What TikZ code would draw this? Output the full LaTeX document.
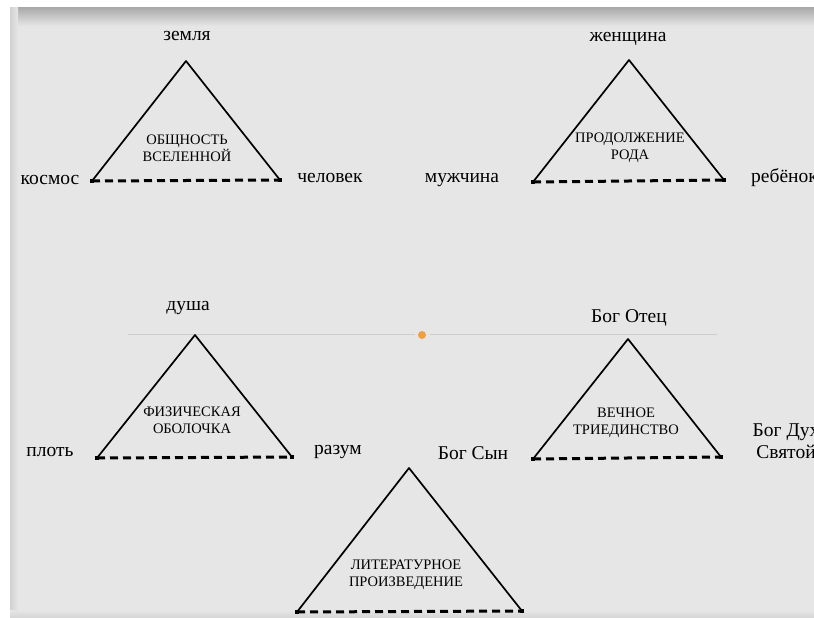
\documentclass[tikz,border=0pt]{standalone}
\usepackage{fontspec}
\setmainfont{Liberation Serif}
\definecolor{paper}{HTML}{E6E6E6}
\definecolor{paperedge}{HTML}{ABABAB}
\definecolor{rule}{HTML}{CDCDCD}
\definecolor{dot}{HTML}{F0A040}
\tikzset{
  lbl/.style={font=\fontsize{19.5}{22}\selectfont, inner sep=0pt, anchor=center},
  inner/.style={font=\fontsize{14.5}{17}\selectfont, inner sep=0pt, align=center, anchor=center},
  side/.style={line width=1.7pt, black, line join=round},
  base/.style={line width=3pt, black, dash pattern=on 8pt off 5pt},
  endpt/.style={rectangle, fill=black, inner sep=0pt, minimum size=4.5pt},
}
\begin{document}
\begin{tikzpicture}[x=1pt,y=-1pt]
\useasboundingbox (0,0) rectangle (814,618);
\clip (0,0) rectangle (814,618);
\fill[white] (0,0) rectangle (814,618);
\fill[paper] (10,8) rectangle (814,618);
\shade[top color=paperedge, bottom color=paper] (10,8) rectangle (814,26);
\shade[left color=paperedge!35!paper, right color=paper] (10,8) rectangle (18,618);
\shade[top color=paper, bottom color=paperedge!30!paper] (10,610) rectangle (814,618);
% horizontal rule with dot
\coordinate (r1) at (128,334);
\coordinate (r2) at (415,334);
\coordinate (r3) at (430,334);
\coordinate (r4) at (717,334);
\draw[rule, line width=1pt] (r1) -- (r2);
\draw[rule, line width=1pt] (r3) -- (r4);
\node[circle, fill=dot, inner sep=0pt, minimum size=8pt] (od) at (422,335) {};

% triangle 1
\coordinate (a1) at (186,61);
\coordinate (b1) at (92,181);
\coordinate (c1) at (280,180);
\draw[side] (b1) -- (a1) -- (c1);
\draw[base] (b1) -- (c1);
\node[endpt] at (b1) {}; \node[endpt] at (c1) {};
\node[lbl] (t1) at (187,36) {земля};
\node[lbl] (l1) at (50,180) {космос};
\node[lbl] (r1l) at (330,178) {человек};
\node[inner] (i1) at (187,148) {ОБЩНОСТЬ\\ВСЕЛЕННОЙ};

% triangle 2
\coordinate (a2) at (629,60);
\coordinate (b2) at (533,182);
\coordinate (c2) at (724,180);
\draw[side] (b2) -- (a2) -- (c2);
\draw[base] (b2) -- (c2);
\node[endpt] at (b2) {}; \node[endpt] at (c2) {};
\node[lbl] (t2) at (628,39) {женщина};
\node[lbl] (l2) at (462,180) {мужчина};
\node[lbl, anchor=west] (r2l) at (751,178) {ребёнок};
\node[inner] (i2) at (630,148) {ПРОДОЛЖЕНИЕ\\РОДА};

% triangle 3
\coordinate (a3) at (195,335);
\coordinate (b3) at (97,458);
\coordinate (c3) at (292,457);
\draw[side] (b3) -- (a3) -- (c3);
\draw[base] (b3) -- (c3);
\node[endpt] at (b3) {}; \node[endpt] at (c3) {};
\node[lbl] (t3) at (188,308) {душа};
\node[lbl] (l3) at (50,452) {плоть};
\node[lbl] (r3l) at (338,452) {разум};
\node[inner] (i3) at (192,420) {ФИЗИЧЕСКАЯ\\ОБОЛОЧКА};

% triangle 4
\coordinate (a4) at (628,339);
\coordinate (b4) at (533,459);
\coordinate (c4) at (721,457);
\draw[side] (b4) -- (a4) -- (c4);
\draw[base] (b4) -- (c4);
\node[endpt] at (b4) {}; \node[endpt] at (c4) {};
\node[lbl] (t4) at (629,318) {Бог Отец};
\node[lbl] (l4) at (473,453) {Бог Сын};
\node[lbl, align=center, font=\fontsize{19.5}{22}\selectfont] (r4l) at (786,441) {Бог Дух\\Святой};
\node[inner] (i4) at (626,423) {ВЕЧНОЕ\\ТРИЕДИНСТВО};

% triangle 5
\coordinate (a5) at (409,468);
\coordinate (b5) at (297,612);
\coordinate (c5) at (522,611);
\draw[side] (b5) -- (a5) -- (c5);
\draw[base] (b5) -- (c5);
\node[endpt] at (b5) {}; \node[endpt] at (c5) {};
\node[inner] (i5) at (406,575) {ЛИТЕРАТУРНОЕ\\ПРОИЗВЕДЕНИЕ};
\end{tikzpicture}
\end{document}
